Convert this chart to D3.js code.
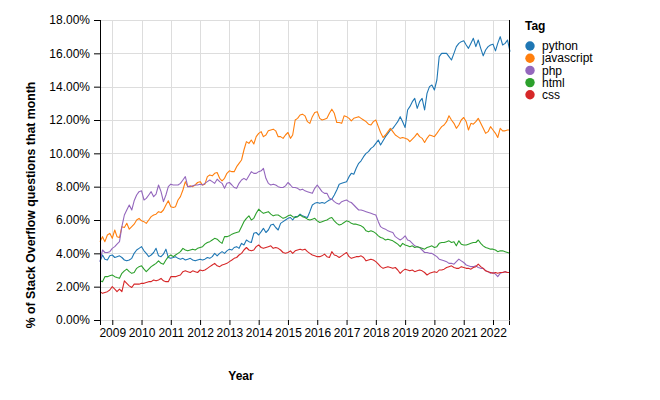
<!DOCTYPE html>
<html>
<head>
<meta charset="utf-8">
<script src="https://cdn.jsdelivr.net/npm/d3@7"></script>
<style>
  html, body { margin: 0; padding: 0; background: #fff; }
  svg { display: block; font-family: "Liberation Sans", Arial, Helvetica, sans-serif; }
</style>
</head>
<body>
<svg id="chart" width="660" height="400"></svg>
<script>
// ---- Data (monthly share of Stack Overflow questions, %, Aug 2008 – Aug 2022) ----
const startMonth = "2008-08";
const tags = ["python", "javascript", "php", "html", "css"];
const tagColors = ["#1f77b4", "#ff7f0e", "#9467bd", "#2ca02c", "#d62728"];

const python = [
  3.5,3.9,3.65,3.6,3.85,
  3.9,3.75,3.8,3.85,3.75,3.6,3.55,3.6,3.7,4.0,4.2,4.3,
  4.4,4.15,4.0,3.8,3.9,4.05,4.3,3.85,3.8,3.95,4.25,3.75,
  3.7,3.75,3.8,3.7,3.65,3.7,3.6,3.65,3.7,3.6,3.55,3.6,
  3.65,3.6,3.65,3.75,3.7,3.8,4.0,3.85,4.0,4.1,4.0,4.15,
  4.25,4.2,4.35,4.4,4.3,4.6,4.5,4.8,4.7,4.65,5.2,5.25,
  5.1,5.3,5.5,5.25,5.4,5.7,5.75,5.55,5.4,5.8,5.9,6.0,
  6.1,6.15,6.0,6.2,6.2,6.35,6.25,6.2,6.15,6.5,6.9,7.0,
  7.05,7.0,7.05,7.0,7.1,7.2,7.25,7.5,7.8,8.15,8.2,8.25,
  8.3,8.6,8.8,8.75,9.1,9.4,9.55,9.8,10.0,10.1,10.3,10.4,
  10.6,10.8,10.5,10.75,11.0,11.2,11.4,11.5,11.7,11.9,12.2,11.9,
  11.55,12.6,12.8,13.1,13.3,12.7,13.1,13.3,12.6,13.6,14.0,14.1,
  13.8,14.4,15.8,16.0,16.0,16.0,15.8,15.6,16.0,16.4,16.6,16.7,
  16.75,16.5,16.3,16.6,16.9,16.4,16.8,16.3,15.85,16.2,16.4,16.5,
  16.55,16.15,16.6,17.0,16.5,16.6,16.8,16.1
];
const javascript = [
  4.7,5.0,4.7,5.1,5.2,
  4.9,5.4,5.0,4.95,5.6,5.55,5.8,5.45,5.6,5.75,6.0,6.1,
  5.95,5.9,5.8,6.0,6.2,6.3,6.35,6.5,6.45,6.6,6.9,7.15,
  6.8,6.75,6.8,7.2,7.4,7.8,8.3,8.0,8.05,8.0,8.1,8.25,
  8.3,8.1,8.15,8.6,8.7,8.65,8.8,8.85,8.5,8.35,8.5,8.8,
  8.95,8.9,8.9,9.2,9.4,9.6,10.2,10.7,10.6,10.8,10.56,11.0,
  11.2,11.3,11.0,11.1,11.35,11.4,11.45,11.35,11.0,11.0,10.9,11.1,
  11.25,10.9,11.1,12.0,12.1,12.3,12.35,12.25,11.9,11.8,12.2,12.45,
  12.5,12.1,12.0,12.05,12.1,12.4,12.65,12.4,11.85,11.85,11.8,12.25,
  12.2,12.1,11.95,12.1,12.15,12.2,12.1,12.0,11.9,11.75,11.7,11.9,
  12.0,11.6,11.25,10.95,11.1,11.3,11.5,11.3,11.1,11.0,10.9,10.95,
  10.9,10.85,10.7,10.85,11.0,11.2,11.0,10.9,10.65,10.9,11.1,11.05,
  11.0,11.2,11.4,11.6,11.7,11.9,12.25,12.0,11.8,11.5,11.7,12.0,
  12.15,11.9,11.4,11.8,11.75,11.9,12.1,11.8,11.5,11.2,11.3,11.6,
  11.4,11.2,10.95,11.5,11.35,11.35,11.4,11.4
];
const php = [
  3.5,4.2,4.05,4.05,4.1,
  4.3,4.4,4.55,4.7,5.6,6.3,6.6,6.9,6.6,7.15,7.5,7.7,
  7.75,7.2,7.3,7.5,7.7,7.4,7.55,8.1,7.7,7.1,7.5,8.0,
  8.15,8.1,8.1,8.1,8.2,8.4,8.6,8.0,8.0,8.05,8.1,8.1,
  8.15,8.1,8.2,8.3,8.4,8.3,8.2,8.45,8.3,8.2,7.9,8.2,
  8.25,8.1,7.95,7.9,8.2,8.4,8.5,8.4,8.65,8.9,8.8,8.8,
  8.9,8.95,9.1,8.5,8.2,8.1,8.15,8.1,8.0,7.95,7.95,8.05,
  8.25,8.1,7.95,7.95,7.9,7.8,7.85,7.75,7.7,7.65,7.6,7.9,
  8.1,7.9,7.7,7.6,7.6,7.3,7.25,7.1,7.0,6.95,7.1,7.15,
  7.2,7.1,7.05,6.9,6.75,6.6,6.6,6.55,6.5,6.45,6.4,6.35,
  6.3,5.9,5.6,5.5,5.45,5.35,5.3,5.25,5.0,4.9,4.8,4.9,
  5.05,4.8,4.75,4.6,4.45,4.4,4.35,4.2,4.05,4.05,4.0,4.0,
  3.9,3.8,3.65,3.6,3.55,3.5,3.4,3.4,3.35,3.5,3.65,3.55,
  3.45,3.3,3.25,3.2,3.2,3.25,3.15,3.1,3.1,2.96,2.9,2.8,
  2.85,2.75,2.6,2.8,2.85,2.9,2.85,2.85
];
const html = [
  2.35,2.3,2.6,2.6,2.65,
  2.7,2.6,2.55,2.5,2.8,2.95,3.05,2.9,2.8,2.85,3.1,3.2,
  3.25,3.05,2.9,3.05,3.2,3.3,3.4,3.55,3.4,3.35,3.6,3.8,
  3.9,3.8,3.9,4.0,4.1,4.3,4.2,4.15,4.2,4.25,4.2,4.3,
  4.35,4.4,4.55,4.65,4.7,4.8,4.9,4.85,4.7,4.6,5.0,5.0,
  5.05,5.15,5.2,5.25,5.3,5.6,5.9,6.1,6.25,6.0,6.1,6.4,
  6.65,6.5,6.4,6.45,6.5,6.35,6.25,6.3,6.3,6.2,6.1,6.15,
  6.25,6.3,6.2,6.15,6.2,6.3,6.2,6.15,6.05,6.0,6.05,6.1,
  5.95,5.85,5.9,5.95,6.0,6.1,6.15,5.95,5.8,5.7,5.75,5.85,
  5.95,5.9,5.8,5.75,5.75,5.7,5.65,5.55,5.35,5.3,5.35,5.3,
  5.2,5.05,4.95,4.9,4.8,4.85,4.8,4.75,4.65,4.55,4.4,4.6,
  4.5,4.45,4.4,4.45,4.35,4.4,4.35,4.3,4.25,4.35,4.4,4.45,
  4.35,4.4,4.6,4.65,4.65,4.7,4.75,4.65,4.7,4.45,4.75,4.55,
  4.5,4.5,4.55,4.6,4.65,4.65,4.8,4.6,4.45,4.35,4.3,4.25,
  4.25,4.2,4.1,4.15,4.15,4.1,4.05,4.0
];
const css = [
  1.7,1.6,1.65,1.7,1.8,
  2.0,1.85,1.7,1.85,1.7,2.35,2.2,2.05,1.95,2.15,2.15,2.15,
  2.2,2.2,2.25,2.3,2.3,2.4,2.35,2.4,2.5,2.35,2.3,2.3,
  2.6,2.6,2.6,2.65,2.7,2.9,2.95,2.9,2.85,2.95,2.9,2.85,
  3.0,2.95,3.0,3.1,3.2,3.3,3.4,3.25,3.2,3.3,3.35,3.4,
  3.5,3.6,3.7,3.75,3.9,4.0,4.2,4.35,4.2,4.15,4.2,4.4,
  4.5,4.35,4.3,4.35,4.4,4.45,4.3,4.35,4.3,4.2,4.05,4.0,
  4.05,4.15,4.0,4.15,4.2,4.25,4.2,4.25,4.1,4.0,3.9,3.85,
  3.8,3.8,3.85,3.95,3.8,3.75,4.1,3.9,3.85,3.75,3.85,3.95,
  4.05,3.8,3.7,3.75,3.8,3.8,3.85,3.75,3.55,3.6,3.65,3.6,
  3.5,3.35,3.2,3.1,3.15,3.2,3.15,3.1,3.15,3.0,2.8,2.95,
  3.05,3.0,2.95,3.0,2.9,2.95,3.0,2.95,2.85,2.7,2.8,2.85,
  2.9,2.85,3.0,3.0,3.05,3.15,3.2,3.25,3.15,3.1,3.1,3.2,
  3.15,3.1,3.1,3.05,3.15,3.2,3.35,3.2,3.1,2.95,2.9,2.85,
  2.8,2.85,2.8,2.85,2.85,2.9,2.85,2.85
];
const seriesValues = [python, javascript, php, html, css];
const yTicks = [0, 2, 4, 6, 8, 10, 12, 14, 16, 18];
const xTickYears = [2009,2010,2011,2012,2013,2014,2015,2016,2017,2018,2019,2020,2021,2022];
const xTitle = "Year";
const yTitle = "% of Stack Overflow questions that month";
const legendTitle = "Tag";

// ---- Build ----
(function () {
const parseMonth = d3.utcParse("%Y-%m");
const t0 = parseMonth(startMonth);
const dates = python.map((_, i) => d3.utcMonth.offset(t0, i));

const svg = d3.select("#chart");
const pL = 100, pR = 510, pT = 20, pB = 320;

const x = d3.scaleUtc().domain([dates[0], dates[dates.length - 1]]).range([pL, pR]);
const y = d3.scaleLinear().domain([0, 18]).range([pB, pT]);
const color = d3.scaleOrdinal().domain(tags).range(tagColors);

// gridlines
const grid = svg.append("g");
grid.selectAll("line.v").data(xTickYears).join("line")
  .attr("x1", d => Math.round(x(Date.UTC(d, 0, 1))) + 0.5)
  .attr("x2", d => Math.round(x(Date.UTC(d, 0, 1))) + 0.5)
  .attr("y1", pT).attr("y2", pB)
  .attr("stroke", "#ddd").attr("stroke-width", 1);
grid.selectAll("line.h").data(yTicks).join("line")
  .attr("x1", pL).attr("x2", pR)
  .attr("y1", d => Math.round(y(d)) + 0.5)
  .attr("y2", d => Math.round(y(d)) + 0.5)
  .attr("stroke", "#ddd").attr("stroke-width", 1);

// lines
const line = d3.line().x((d, i) => x(dates[i])).y(d => y(d));
svg.append("g").selectAll("path").data(seriesValues).join("path")
  .attr("d", d => line(d))
  .attr("fill", "none")
  .attr("stroke", (d, i) => color(tags[i]))
  .attr("stroke-width", 1.1)
  .attr("stroke-linejoin", "round");

// x axis
const xAxis = d3.axisBottom(x)
  .tickValues(xTickYears.map(yv => new Date(Date.UTC(yv, 0, 1))))
  .tickFormat(d3.utcFormat("%Y"))
  .tickSize(5).tickSizeOuter(5).tickPadding(3);
const gx = svg.append("g").attr("transform", `translate(0,${pB})`).call(xAxis);
gx.select(".domain").attr("stroke", "#000").attr("d", `M${pL + 0.5},5V0.5M${pR - 0.5},5V0.5`);
gx.selectAll(".tick line").attr("stroke", "#000");
gx.selectAll(".tick text").attr("font-size", 12).attr("fill", "#000")
  .attr("font-family", "'Liberation Sans', Arial, sans-serif");

// right border line
svg.append("line").attr("x1", pR - 0.5).attr("x2", pR - 0.5)
  .attr("y1", pT).attr("y2", pB).attr("stroke", "#000");

// y axis
const yAxis = d3.axisLeft(y).tickValues(yTicks)
  .tickFormat(d => d3.format(".2f")(d) + "%")
  .tickSize(6).tickSizeOuter(0).tickPadding(4);
const gy = svg.append("g").attr("transform", `translate(${pL},0)`).call(yAxis);
gy.select(".domain").attr("stroke", "#000").attr("d", `M0.5,${pT}V${pB + 5}`);
gy.selectAll(".tick line").attr("stroke", "#000");
gy.selectAll(".tick text").attr("font-size", 12).attr("fill", "#000")
  .attr("font-family", "'Liberation Sans', Arial, sans-serif");

// axis titles
svg.append("text").attr("x", 241).attr("y", 380)
  .attr("text-anchor", "middle").attr("font-weight", "bold").attr("font-size", 12)
  .text(xTitle);
svg.append("text").attr("transform", "translate(35,205) rotate(-90)")
  .attr("text-anchor", "middle").attr("font-weight", "bold").attr("font-size", 12.3)
  .text(yTitle);

// legend
const lg = svg.append("g").attr("transform", "translate(525,0)");
lg.append("text").attr("x", 0).attr("y", 30).attr("font-weight", "bold").attr("font-size", 12).text(legendTitle);
const items = lg.selectAll("g.item").data(tags).join("g")
  .attr("transform", (d, i) => `translate(0,${46 + i * 12.2})`);
items.append("circle").attr("cx", 5).attr("cy", 0).attr("r", 4.7).attr("fill", d => color(d));
items.append("text").attr("x", 17).attr("y", 0).attr("dy", "0.35em")
  .attr("font-size", 12).text(d => d);
})();
</script>
</body>
</html>
